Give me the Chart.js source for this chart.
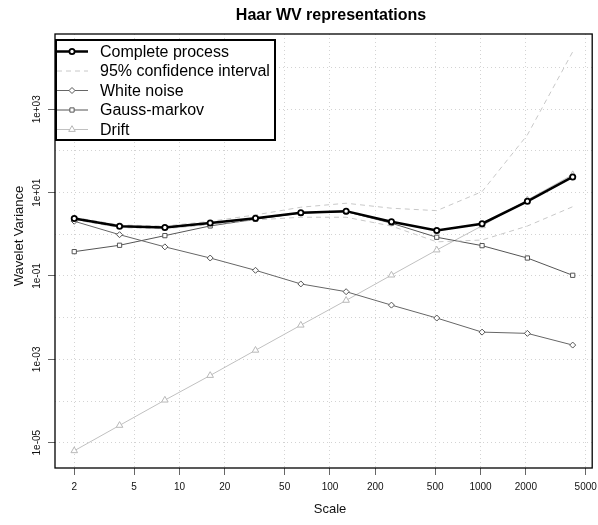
<!DOCTYPE html>
<html>
<head>
<meta charset="utf-8">
<script src="https://cdn.jsdelivr.net/npm/chart.js"></script>
<style>
    html, body { margin: 0; padding: 0; background: #fff; }
    #wrap { width: 598px; height: 525px; }
</style>
</head>
<body>
<div id="wrap"><canvas id="wvChart" width="598" height="525"></canvas></div>
<script>
// ====================== DATA ======================
const scaleValues = [2, 4, 8, 16, 32, 64, 128, 256, 512, 1024, 2048, 4096];
const completeProcess = [2.40, 1.56, 1.46, 1.87, 2.44, 3.31, 3.60, 2.00, 1.24, 1.80, 6.2, 23.8];
const ciUpper = [2.55, 1.68, 1.58, 2.05, 2.92, 4.47, 5.57, 4.23, 3.70, 10.6, 243, 24000];
const ciLower = [2.25, 1.45, 1.36, 1.70, 2.21, 2.57, 2.57, 1.58, 0.66, 0.73, 1.58, 4.6];
const whiteNoise = [2.06, 0.98, 0.50, 0.27, 0.137, 0.0645, 0.042, 0.020, 0.0098, 0.0045, 0.0042, 0.0022];
const gaussMarkov = [0.384, 0.546, 0.93, 1.59, 2.30, 3.24, 3.50, 1.85, 0.85, 0.535, 0.27, 0.104];
const drift = [6.4e-6, 2.6e-5, 1.05e-4, 4.1e-4, 1.65e-3, 6.6e-3, 2.6e-2, 0.105, 0.42, 1.6, 6.7, 27];

const xTickValues = [2, 5, 10, 20, 50, 100, 200, 500, 1000, 2000, 5000];
const yGridValues = [1e-5, 1e-4, 1e-3, 1e-2, 1e-1, 1, 10, 100, 1000, 10000];
const yTickLabels = { '-5': '1e-05', '-3': '1e-03', '-1': '1e-01', '1': '1e+01', '3': '1e+03' };

const FONT = '"Liberation Sans", Arial, Helvetica, sans-serif';

// ====================== HELPERS ======================
function toPoints(values) {
    return scaleValues.map((s, i) => ({ x: s, y: values[i] }));
}

function isLabeled(value) {
    const e = Math.round(Math.log10(value));
    return yTickLabels[String(e)] !== undefined;
}

function drawMarker(ctx, style, radius, x, y) {
    if (Chart.helpers && Chart.helpers.drawPoint) {
        Chart.helpers.drawPoint(ctx, { pointStyle: style, radius: radius, borderWidth: ctx.lineWidth, rotation: 0 }, x, y);
    }
}

// ====================== PLUGINS ======================
const boxAndLabels = {
    id: 'boxAndLabels',
    afterDatasetsDraw(chart) {
        const { ctx, chartArea } = chart;
        ctx.save();
        ctx.strokeStyle = '#000';
        ctx.lineWidth = 1.3;
        ctx.strokeRect(chartArea.left, chartArea.top, chartArea.right - chartArea.left, chartArea.bottom - chartArea.top);
        ctx.restore();
    },
    afterDraw(chart) {
        const { ctx } = chart;
        const yScale = chart.scales.y;

        // main title and x title (R centres them a little right of the canvas middle)
        ctx.save();
        ctx.fillStyle = '#000';
        ctx.textAlign = 'center';
        ctx.textBaseline = 'middle';
        ctx.font = 'bold 16px ' + FONT;
        ctx.fillText('Haar WV representations', 331, 16);
        ctx.fillStyle = '#111';
        ctx.font = '13px ' + FONT;
        ctx.fillText('Scale', 330, 509);
        ctx.restore();

        // y tick labels, parallel to the axis
        ctx.save();
        ctx.fillStyle = '#111';
        ctx.font = '10px ' + FONT;
        ctx.textAlign = 'center';
        ctx.textBaseline = 'middle';
        yGridValues.forEach(v => {
            const lab = yTickLabels[String(Math.round(Math.log10(v)))];
            if (!lab) return;
            const py = yScale.getPixelForValue(v);
            ctx.save();
            ctx.translate(37, py);
            ctx.rotate(-Math.PI / 2);
            ctx.fillText(lab, 0, 0);
            ctx.restore();
        });

        // y axis title
        ctx.font = '13px ' + FONT;
        ctx.translate(19, 236);
        ctx.rotate(-Math.PI / 2);
        ctx.fillText('Wavelet Variance', 0, 0);
        ctx.restore();

        // legend box
        const entries = [
            { label: 'Complete process', ds: 0 },
            { label: '95% confidence interval', ds: 1 },
            { label: 'White noise', ds: 3 },
            { label: 'Gauss-markov', ds: 4 },
            { label: 'Drift', ds: 5 }
        ];
        ctx.save();
        ctx.fillStyle = '#fff';
        ctx.fillRect(56, 40, 219, 100);
        ctx.strokeStyle = '#000';
        ctx.lineWidth = 2;
        ctx.strokeRect(56, 40, 219, 100);
        entries.forEach((e, i) => {
            const ds = chart.data.datasets[e.ds];
            const y = 51.5 + i * 19.5;
            ctx.save();
            ctx.strokeStyle = ds.borderColor;
            ctx.lineWidth = ds.borderWidth;
            ctx.setLineDash(ds.borderDash || []);
            ctx.beginPath();
            ctx.moveTo(57, y);
            ctx.lineTo(88, y);
            ctx.stroke();
            ctx.setLineDash([]);
            if (ds.pointRadius > 0) {
                ctx.strokeStyle = ds.pointBorderColor;
                ctx.fillStyle = ds.pointBackgroundColor;
                ctx.lineWidth = ds.pointBorderWidth;
                drawMarker(ctx, ds.pointStyle, ds.pointRadius, 72, y);
            }
            ctx.restore();
            ctx.fillStyle = '#000';
            ctx.font = '16px ' + FONT;
            ctx.textAlign = 'left';
            ctx.textBaseline = 'middle';
            ctx.fillText(e.label, 100, y + 1);
        });
        ctx.restore();
    }
};

// ====================== CHART ======================
function createWVChart() {
    const ctx = document.getElementById('wvChart').getContext('2d');
    return new Chart(ctx, {
        type: 'line',
        data: {
            datasets: [
                {
                    label: 'Complete process',
                    data: toPoints(completeProcess),
                    borderColor: '#000',
                    borderWidth: 2.5,
                    pointStyle: 'circle',
                    pointRadius: 2.6,
                    pointBorderWidth: 1.8,
                    pointBorderColor: '#000',
                    pointBackgroundColor: '#fff'
                },
                {
                    label: '95% confidence interval',
                    data: toPoints(ciUpper),
                    borderColor: '#c8c8c8',
                    borderWidth: 1,
                    borderDash: [5, 4],
                    pointRadius: 0
                },
                {
                    label: '95% confidence interval (lower)',
                    data: toPoints(ciLower),
                    borderColor: '#c8c8c8',
                    borderWidth: 1,
                    borderDash: [5, 4],
                    pointRadius: 0
                },
                {
                    label: 'White noise',
                    data: toPoints(whiteNoise),
                    borderColor: '#666',
                    borderWidth: 1,
                    pointStyle: 'rectRot',
                    pointRadius: 3,
                    pointBorderWidth: 1,
                    pointBorderColor: '#555',
                    pointBackgroundColor: '#fff'
                },
                {
                    label: 'Gauss-markov',
                    data: toPoints(gaussMarkov),
                    borderColor: '#555',
                    borderWidth: 1,
                    pointStyle: 'rect',
                    pointRadius: 3,
                    pointBorderWidth: 1,
                    pointBorderColor: '#555',
                    pointBackgroundColor: '#fff'
                },
                {
                    label: 'Drift',
                    data: toPoints(drift),
                    borderColor: '#c0c0c0',
                    borderWidth: 1,
                    pointStyle: 'triangle',
                    pointRadius: 3.8,
                    pointBorderWidth: 1,
                    pointBorderColor: '#b8b8b8',
                    pointBackgroundColor: '#fff'
                }
            ]
        },
        options: {
            responsive: false,
            animation: false,
            devicePixelRatio: 1,
            layout: { padding: { left: 0, right: 1, top: 34, bottom: 0 } },
            elements: { line: { tension: 0 } },
            plugins: {
                legend: { display: false },
                tooltip: { enabled: false },
                title: { display: false }
            },
            scales: {
                x: {
                    type: 'logarithmic',
                    position: 'bottom',
                    min: 1.49,
                    max: 5520,
                    afterBuildTicks: scale => { scale.ticks = xTickValues.map(v => ({ value: v })); },
                    afterFit: scale => { scale.height = 57; scale.paddingLeft = 0; scale.paddingRight = 0; },
                    ticks: {
                        autoSkip: false,
                        maxRotation: 0,
                        minRotation: 0,
                        padding: 6,
                        color: '#111',
                        font: { family: FONT, size: 10 },
                        callback: value => String(value)
                    },
                    grid: {
                        color: '#d3d3d3',
                        lineWidth: 1,
                        drawTicks: true,
                        tickLength: 7,
                        tickColor: '#666',
                        tickWidth: 1
                    },
                    border: { display: false, dash: [1, 3] }
                },
                y: {
                    type: 'logarithmic',
                    position: 'left',
                    min: 2.47e-6,
                    max: 64100,
                    afterBuildTicks: scale => { scale.ticks = yGridValues.map(v => ({ value: v })); },
                    afterFit: scale => { scale.width = 55; scale.paddingTop = 0; scale.paddingBottom = 0; },
                    ticks: { display: false },
                    grid: {
                        color: '#d3d3d3',
                        lineWidth: 1,
                        drawTicks: true,
                        tickLength: 7,
                        tickColor: c => (c.tick && isLabeled(c.tick.value)) ? '#666' : 'rgba(0,0,0,0)',
                        tickWidth: 1
                    },
                    border: { display: false, dash: [1, 3] }
                }
            }
        },
        plugins: [boxAndLabels]
    });
}

createWVChart();
</script>
</body>
</html>
